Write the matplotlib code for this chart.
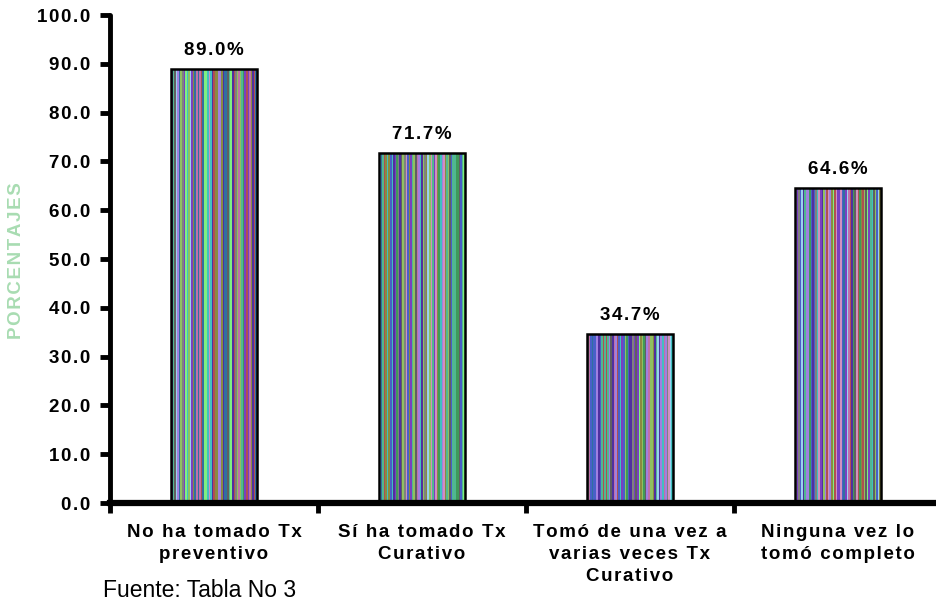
import numpy as np
import matplotlib
matplotlib.use("Agg")
from matplotlib import pyplot as plt

categories = ['No ha tomado Tx\npreventivo',
              'Sí ha tomado Tx\nCurativo',
              'Tomó de una vez a\nvarias veces Tx\nCurativo',
              'Ninguna vez lo\ntomó completo']
porcentajes = [89.0, 71.7, 34.7, 64.6]
yticks = np.arange(0, 101, 10)

# colours used for the striped bar fill
stripe_colors = ['#7a3fc0', '#3f9a5a', '#c070a8', '#808080', '#40c0c0',
                 '#80f080', '#4860c8', '#b05050', '#8a8a40', '#a080e0',
                 '#50b890', '#606060', '#d090c0', '#3070a0', '#90c060',
                 '#9ad0f0', '#5030a0']

plt.rcParams['font.family'] = ['Liberation Sans', 'DejaVu Sans']


# loose letter spacing for the bold labels
def spaced(s):
    return '\n'.join('\u200a'.join(line) for line in s.split('\n'))


fig = plt.figure(figsize=(9.37, 6.03), dpi=100)
ax = fig.add_axes([110 / 937, 1 - 503 / 603, 832 / 937, 488 / 603])

x = np.arange(len(categories))
bars = ax.bar(x, porcentajes, width=0.41, color='none',
              edgecolor='black', linewidth=1.8, zorder=3)

# fill each bar with thin vertical stripes
rng = np.random.default_rng(7)
for k, b in enumerate(bars):
    n = 55
    idx = rng.integers(0, len(stripe_colors), n)
    strip = np.array([matplotlib.colors.to_rgb(stripe_colors[i]) for i in idx])
    x0, w, h = b.get_x(), b.get_width(), b.get_height()
    im = ax.imshow(strip[np.newaxis, :, :], extent=(x0, x0 + w, 0, h),
                   aspect='auto', interpolation='nearest', zorder=2)
    im.set_clip_path(b)
    ax.annotate(spaced(f'{h:.1f}%'), (x[k], h), xytext=(0, 10),
                textcoords='offset points', ha='center', va='baseline',
                fontsize=13.5, fontweight='bold', zorder=4)

ax.set_xlim(-0.5, 3.5)
ax.set_ylim(0, 100)
ax.set_yticks(yticks)
ax.set_yticklabels([spaced(f'{v:.1f}') for v in yticks], fontsize=13.5,
                   fontweight='bold')
ax.set_xticks(np.arange(-0.5, 3.6, 1.0))
ax.set_xticklabels([])
ax.set_xticks(x, minor=True)
ax.set_xticklabels([spaced(c) for c in categories], minor=True,
                   fontsize=13.5, fontweight='bold', linespacing=1.38,
                   va='top')
ax.tick_params(axis='x', which='minor', length=0, pad=15)
ax.tick_params(axis='x', which='major', length=7, width=3.5, direction='out')
ax.tick_params(axis='y', length=7, width=3.5, direction='out', pad=7)

for side in ['top', 'right']:
    ax.spines[side].set_visible(False)
ax.spines['left'].set_linewidth(3.5)
ax.spines['bottom'].set_linewidth(4.5)
ax.spines['left'].set_capstyle('round')

fig.text(17 / 937, 1 - 261 / 603, spaced('PORCENTAJES'), rotation=90,
         ha='center', va='center', fontsize=13.5, fontweight='bold',
         color='#a8dcb2')
fig.text(103 / 937, 1 - 597 / 603, 'Fuente: Tabla No 3', ha='left',
         va='baseline', fontsize=16.5)

fig.savefig('out.png', dpi=100)
